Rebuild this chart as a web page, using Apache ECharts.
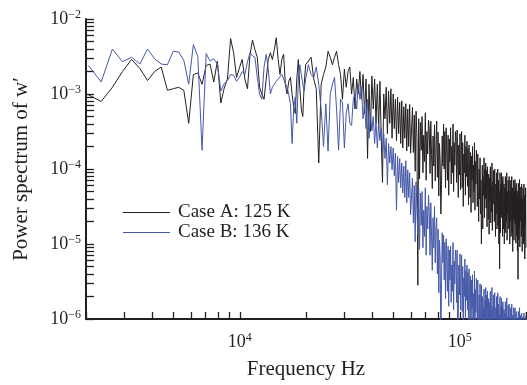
<!DOCTYPE html>
<html>
<head>
<meta charset="utf-8">
<script src="https://cdn.jsdelivr.net/npm/echarts@6.0.0/dist/echarts.min.js"></script>
<style>
html, body { margin: 0; padding: 0; background: #fff; }
#chart { width: 527px; height: 385px; }
</style>
</head>
<body>
<div id="chart"></div>
<script>
// frequency bins: [first bin Hz, bin width Hz, number of bins]
var freqBands = [[2051, 293, 62], [20510, 586, 68], [60944, 586, 238]];

// log10 of power, one value per bin
var caseA = [
  -3.01, -3.10, -2.91, -2.70, -2.54, -2.66, -2.82, -2.70, -2.64, -2.95,
  -2.93, -2.91, -2.95, -3.39, -2.74, -2.72, -2.87, -2.62, -2.60, -2.84,
  -2.56, -3.12, -2.92, -2.80, -2.26, -2.45, -2.78, -2.65,
  -2.54, -2.80, -2.93, -2.47, -2.28, -2.41, -2.51, -2.91, -3.00, -3.07,
  -2.80, -2.54, -2.45, -2.54, -2.41, -2.25, -2.54, -2.74, -2.54, -2.47,
  -2.87, -3.00, -2.83, -2.78, -3.00, -3.17, -3.26, -2.80, -2.54, -2.93,
  -3.20, -3.30, -2.87, -2.61,
  // 20 - 60 kHz
  -2.56, -2.51, -2.80, -2.93, -3.92, -2.87, -2.74, -2.64, -2.43, -2.51,
  -2.61, -2.51, -2.43, -2.61, -2.74, -3.07, -2.67, -2.91, -2.70, -2.64,
  -3.00, -2.78, -3.20, -2.80, -3.00, -2.70, -3.07, -2.74, -3.26, -2.80,
  -3.86, -2.87, -3.50, -2.76, -3.20, -2.80, -3.39, -2.87, -3.46, -2.83,
  -3.59, -4.18, -3.00, -3.33, -2.91, -3.53, -2.96, -3.39, -2.93, -3.59,
  -3.00, -3.46, -3.07, -3.62, -3.04, -3.53, -3.11, -3.66, -3.09, -3.72,
  -3.17, -3.59, -3.13, -3.76, -3.20, -3.70, -3.14, -3.79,
  // 60 - 200 kHz
  -3.18, -3.78, -3.28, -4.03, -3.23, -3.58, -5.55, -3.33, -4.13, -3.38,
  -3.75, -3.30, -4.05, -3.55, -3.90, -3.25, -4.15, -3.50, -3.80, -3.35,
  -3.46, -4.06, -3.36, -3.81, -4.26, -3.56, -3.96, -3.41, -4.16, -3.71,
  -3.36, -4.11, -3.51, -4.36, -3.66, -3.91, -4.60, -4.21, -3.56, -3.96,
  -3.40, -4.00, -3.50, -4.25, -3.45, -3.80, -4.15, -3.55, -4.35, -3.60,
  -3.90, -3.45, -4.20, -3.70, -4.05, -3.40, -4.30, -3.65, -3.95, -3.50,
  -3.58, -4.18, -3.48, -3.93, -4.38, -3.68, -4.08, -3.53, -4.28, -3.83,
  -3.50, -4.25, -3.65, -4.50, -3.80, -4.05, -3.55, -4.35, -3.70, -4.10,
  -3.63, -4.23, -3.73, -4.48, -3.68, -4.03, -4.38, -3.78, -4.58, -3.83,
  -4.15, -3.70, -4.45, -3.95, -4.30, -3.65, -4.55, -3.90, -4.20, -3.75,
  -3.90, -4.50, -3.80, -4.25, -4.70, -4.00, -4.40, -3.85, -4.60, -4.15,
  -5.00, -4.55, -3.95, -4.80, -4.10, -4.35, -3.85, -4.65, -4.00, -4.40,
  -3.92, -4.52, -4.02, -4.77, -3.97, -4.32, -4.67, -4.07, -4.87, -4.12,
  -4.42, -3.97, -4.72, -4.22, -4.57, -3.92, -4.82, -4.17, -4.47, -4.02,
  -4.10, -4.70, -4.00, -4.45, -4.90, -4.20, -4.60, -4.05, -4.80, -4.35,
  -4.00, -4.75, -4.15, -5.00, -4.30, -5.33, -4.05, -4.85, -4.20, -4.60,
  -4.05, -4.65, -4.15, -4.90, -4.10, -4.45, -4.80, -4.20, -5.00, -4.25,
  -4.55, -4.10, -4.85, -4.35, -4.70, -4.05, -4.95, -4.30, -4.60, -4.15,
  -4.20, -4.80, -4.10, -4.55, -5.00, -4.30, -4.70, -4.15, -4.90, -4.45,
  -4.10, -4.85, -4.25, -5.10, -4.40, -4.65, -4.15, -4.95, -4.30, -4.70,
  -4.14, -4.74, -4.24, -4.99, -4.19, -4.54, -4.89, -4.29, -5.09, -4.34,
  -5.47, -4.19, -4.94, -4.44, -4.79, -4.14, -5.04, -4.39, -4.69, -4.24,
  -4.30, -4.90, -4.20, -4.65, -5.10, -4.40, -4.80, -4.25, -5.00, -4.55,
  -4.20, -4.95, -4.35, -5.20, -4.50, -4.75, -4.25, -5.05
];

var caseB = [
  -2.62, -2.84, -2.40, -2.57, -2.51, -2.60, -2.40, -2.53, -2.60, -2.61,
  -2.43, -2.44, -2.55, -2.87, -2.34, -2.50, -3.75, -2.46, -2.56, -2.53,
  -2.60, -2.96, -2.86, -2.82, -2.74, -2.75, -2.83, -2.78,
  -2.70, -2.74, -2.57, -2.45, -2.49, -2.51, -2.78, -3.00, -3.07, -2.64,
  -2.47, -2.67, -3.00, -2.91, -2.87, -2.83, -2.80, -2.78, -2.74, -2.80,
  -2.86, -2.91, -3.01, -3.13, -3.66, -3.20, -3.04, -3.39, -2.80, -2.61,
  -2.74, -2.87, -2.96, -2.80,
  // 20 - 60 kHz
  -2.61, -2.74, -2.78, -2.64, -2.87, -3.20, -3.70, -3.13, -3.76, -3.00,
  -2.87, -2.78, -3.20, -3.75, -3.07, -3.11, -3.72, -3.26, -3.13, -3.39,
  -3.42, -3.07, -3.00, -3.20, -2.87, -3.07, -2.91, -3.33, -3.13, -3.46,
  -3.07, -3.59, -3.26, -3.49, -3.30, -3.66, -3.36, -3.72, -3.39, -3.62,
  -3.46, -3.79, -3.53, -3.86, -3.59, -4.21, -3.66, -3.92, -3.70, -4.01,
  -3.72, -4.09, -3.79, -4.55, -3.83, -4.18, -3.86, -4.25, -3.92, -4.32,
  -3.96, -4.38, -3.89, -4.45, -4.01, -4.38, -4.05, -4.61,
  // 60 - 200 kHz
  -4.12, -4.72, -4.22, -4.97, -4.17, -4.52, -4.87, -4.27, -5.07, -4.32,
  -4.75, -4.30, -5.05, -4.55, -4.90, -4.25, -5.15, -4.50, -4.80, -4.35,
  -4.55, -5.15, -4.45, -4.90, -5.35, -4.65, -5.05, -4.50, -5.25, -4.80,
  -4.65, -5.40, -4.80, -5.65, -4.95, -5.20, -6.40, -5.50, -4.85, -5.25,
  -4.88, -5.48, -4.98, -5.73, -4.93, -5.28, -5.63, -5.03, -5.83, -5.08,
  -5.48, -5.03, -5.78, -5.28, -5.63, -4.98, -5.88, -5.23, -5.53, -5.08,
  -5.18, -5.78, -5.08, -6.50, -5.98, -5.28, -5.68, -5.13, -5.88, -5.43,
  -5.15, -5.90, -5.30, -6.20, -5.45, -5.70, -5.20, -6.00, -5.35, -5.75,
  -5.28, -5.88, -5.38, -6.20, -5.33, -5.68, -6.03, -5.43, -6.30, -5.48,
  -5.86, -5.41, -6.16, -5.66, -6.40, -5.36, -6.26, -5.61, -5.91, -5.46,
  -5.58, -6.18, -5.48, -5.93, -6.40, -5.68, -6.08, -5.53, -6.28, -5.83,
  -5.55, -6.30, -5.70, -6.50, -5.85, -6.10, -5.60, -6.35, -5.75, -6.15,
  -5.58, -6.18, -5.68, -6.43, -5.63, -5.98, -6.33, -5.73, -6.53, -5.78,
  -6.08, -5.63, -6.38, -5.88, -6.23, -5.58, -6.48, -5.83, -6.13, -5.68,
  -5.75, -6.35, -5.65, -6.10, -6.55, -5.85, -6.25, -5.70, -6.45, -6.00,
  -5.65, -6.40, -5.80, -6.65, -5.95, -6.20, -5.70, -6.50, -5.85, -6.25,
  -5.72, -6.32, -5.82, -6.57, -5.77, -6.12, -6.47, -5.87, -6.67, -5.92,
  -6.22, -5.77, -6.52, -6.02, -6.37, -5.72, -6.62, -5.97, -6.27, -5.82,
  -5.90, -6.50, -5.80, -6.25, -6.70, -6.00, -6.40, -5.85, -6.60, -6.15,
  -5.80, -6.55, -5.95, -6.80, -6.10, -6.35, -5.85, -6.65, -6.00, -6.40,
  -5.85, -6.45, -5.95, -6.70, -5.90, -6.25, -6.60, -6.00, -6.80, -6.05,
  -6.35, -5.90, -6.65, -6.15, -6.50, -5.85, -6.75, -6.10, -6.40, -5.95,
  -6.02, -6.62, -5.92, -6.37, -6.82, -6.12, -6.52, -5.97, -6.72, -6.27,
  -5.92, -6.67, -6.07, -6.92, -6.22, -6.47, -5.97, -6.77
];

var seriesNames = ['Case A: 125 K', 'Case B: 136 K'];
var seriesColors = ['#231f20', '#4659a8'];

// axis decades and the 1..9 ticks inside each
var xDecades = [1e3, 1e4, 1e5];
var xMajorLabels = [1e4, 1e5];
var yDecades = [1e-6, 1e-5, 1e-4, 1e-3];
var yMajorLabels = [1e-6, 1e-5, 1e-4, 1e-3, 1e-2];
var minorSteps = [1, 2, 3, 4, 5, 6, 7, 8, 9];

var xMin = 2000, xMax = 200000, yMin = 1e-6, yMax = 1e-2;

var freqs = [];
freqBands.forEach(function (b) {
  for (var k = 0; k < b[2]; k++) freqs.push(b[0] + k * b[1]);
});

function toPairs(vals) {
  return vals.map(function (v, i) { return [freqs[i], Math.pow(10, v)]; });
}

function tickList(decades, lo, hi) {
  var out = [];
  decades.forEach(function (d) {
    minorSteps.forEach(function (m) {
      var v = d * m;
      if (v >= lo * 0.999 && v <= hi * 1.001) out.push(v);
    });
  });
  out.push(hi);
  return out;
}

function powLabel(v) {
  var e = Math.round(Math.log(v) / Math.LN10);
  return '10{sup|' + (e < 0 ? '\u2212' + (-e) : e) + '}';
}

var font = 'Liberation Serif';
var ink = '#231f20';
var supStyle = { fontFamily: font, fontSize: 12, color: ink, padding: [0, 0, 9, 0] };

var chart = echarts.init(document.getElementById('chart'));

chart.setOption({
  animation: false,
  grid: { left: 86, right: 1, top: 19, bottom: 62 },
  legend: {
    data: seriesNames,
    orient: 'vertical',
    left: 118,
    top: 198,
    icon: 'rect',
    itemWidth: 47,
    itemHeight: 1.2,
    itemGap: 1,
    textStyle: { fontFamily: font, fontSize: 19, color: ink, padding: [0, 0, 0, 3] }
  },
  xAxis: {
    type: 'log',
    logBase: 10,
    min: xMin,
    max: xMax,
    name: 'Frequency Hz',
    nameLocation: 'middle',
    nameGap: 40,
    nameTextStyle: { fontFamily: font, fontSize: 21, color: ink },
    axisLine: { lineStyle: { color: ink, width: 2 } },
    axisTick: {
      inside: true, length: 7,
      lineStyle: { color: ink, width: 1.3 },
      customValues: tickList(xDecades, xMin, xMax)
    },
    axisLabel: {
      customValues: xMajorLabels,
      formatter: powLabel,
      margin: 13,
      color: ink,
      fontFamily: font,
      fontSize: 18,
      rich: { sup: supStyle }
    },
    splitLine: { show: false }
  },
  yAxis: {
    type: 'log',
    logBase: 10,
    min: yMin,
    max: yMax,
    name: 'Power spectrum of w\u2032',
    nameLocation: 'middle',
    nameGap: 54,
    nameTextStyle: { fontFamily: font, fontSize: 21, color: ink },
    axisLine: { lineStyle: { color: ink, width: 2 } },
    axisTick: {
      inside: true, length: 8,
      lineStyle: { color: ink, width: 1.3 },
      customValues: tickList(yDecades, yMin, yMax)
    },
    axisLabel: {
      customValues: yMajorLabels,
      formatter: powLabel,
      margin: 5,
      color: ink,
      fontFamily: font,
      fontSize: 18,
      rich: { sup: supStyle }
    },
    splitLine: { show: false }
  },
  series: [
    {
      name: seriesNames[0],
      type: 'line',
      symbol: 'none',
      color: seriesColors[0],
      lineStyle: { color: seriesColors[0], width: 1 },
      data: toPairs(caseA)
    },
    {
      name: seriesNames[1],
      type: 'line',
      symbol: 'none',
      color: seriesColors[1],
      lineStyle: { color: seriesColors[1], width: 1 },
      data: toPairs(caseB)
    }
  ]
});
</script>
</body>
</html>
